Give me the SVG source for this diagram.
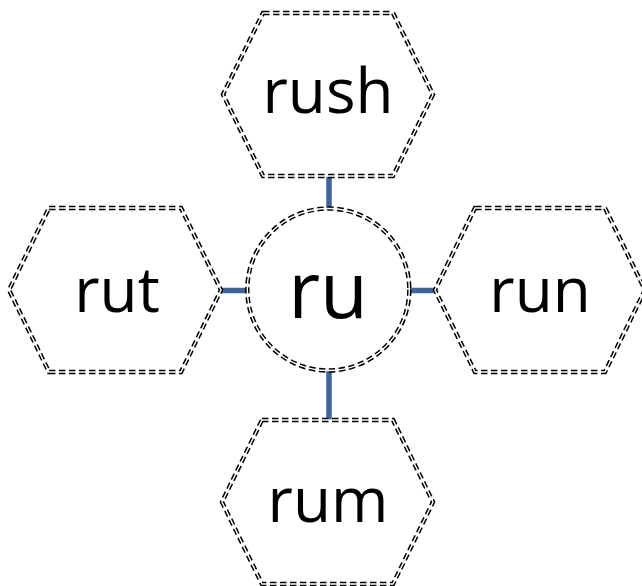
<svg xmlns="http://www.w3.org/2000/svg" width="642" height="586" viewBox="0 0 642 586">
<defs>
<style>
.outer{fill:none;stroke:#000;stroke-width:4.4;stroke-dasharray:6.5 3.5;stroke-linejoin:miter}
.inner{fill:none;stroke:#fff;stroke-width:1.4}
.lbl{font-family:"Open Sans","Liberation Sans",sans-serif;font-size:62px;fill:#000;text-anchor:middle}
.conn{stroke:#3D6599;stroke-width:5.5;fill:none}
</style>
</defs>
<rect width="642" height="586" fill="#fff"/>
<g id="connectors">
<line class="conn" x1="329" y1="176" x2="329" y2="210"/>
<line class="conn" x1="221" y1="290.5" x2="247" y2="290.5"/>
<line class="conn" x1="409" y1="290.5" x2="436" y2="290.5"/>
<line class="conn" x1="329" y1="371" x2="329" y2="420"/>
</g>
<g id="node-ru">
<circle class="outer" cx="328.3" cy="289.5" r="81"/>
<circle class="inner" cx="328.3" cy="289.5" r="81"/>
<text class="lbl" x="328" y="318" style="font-size:78px">ru</text>
</g>
<g id="node-rush">
<polygon class="outer" points="263,13 393,13 433,94.5 393,176 263,176 223,94.5"/>
<polygon class="inner" points="263,13 393,13 433,94.5 393,176 263,176 223,94.5"/>
<text class="lbl" x="328" y="113">rush</text>
</g>
<g id="node-rut">
<polygon class="outer" points="49,208 181,208 221,290 181,372 49,372 9,290"/>
<polygon class="inner" points="49,208 181,208 221,290 181,372 49,372 9,290"/>
<text class="lbl" x="117" y="312">rut</text>
</g>
<g id="node-run">
<polygon class="outer" points="475,208 605,208 645,290 605,372 475,372 435,290"/>
<polygon class="inner" points="475,208 605,208 645,290 605,372 475,372 435,290"/>
<text class="lbl" x="540" y="312">run</text>
</g>
<g id="node-rum">
<polygon class="outer" points="262,420 393,420 433,502 393,584 262,584 222,502"/>
<polygon class="inner" points="262,420 393,420 433,502 393,584 262,584 222,502"/>
<text class="lbl" x="328" y="522">rum</text>
</g>
</svg>
